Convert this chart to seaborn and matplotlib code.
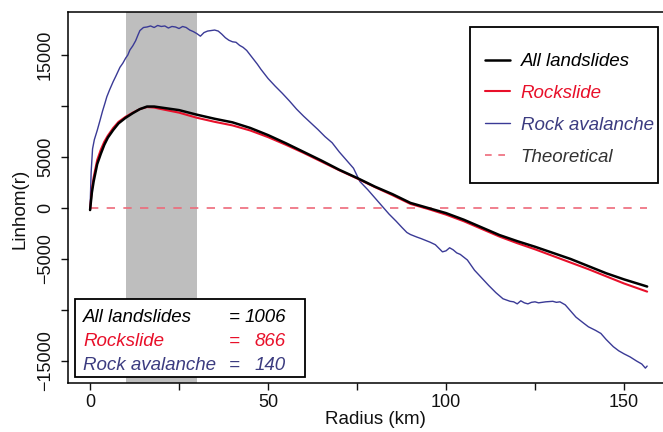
import matplotlib
matplotlib.use("Agg")
import matplotlib.pyplot as plt
import seaborn as sns
import pandas as pd
from matplotlib.patches import Rectangle
from matplotlib.lines import Line2D

# ---------------- data ----------------
radius_all = [0, 0.5, 1, 2, 3, 4, 5, 6.5, 8, 10, 12, 14, 16, 18, 20, 25, 30, 35, 40,
              45, 50, 55, 60, 65, 70, 75, 80, 85, 90, 95, 100, 105, 110, 115, 120,
              125, 130, 135, 140, 145, 150, 156.5]
linhom_all = [-200, 1500, 2600, 4300, 5300, 6200, 6900, 7650, 8300, 8850, 9300, 9700,
              9950, 9950, 9850, 9600, 9150, 8750, 8400, 7850, 7150, 6350, 5500, 4650,
              3750, 2950, 2100, 1350, 500, 0, -500, -1150, -1900, -2650, -3250, -3800,
              -4400, -5000, -5700, -6400, -7000, -7700]
linhom_rockslide = [-200, 1800, 3000, 4700, 5700, 6500, 7100, 7850, 8450, 8950, 9350,
                    9700, 9900, 9850, 9700, 9350, 8850, 8450, 8100, 7600, 6950, 6200,
                    5400, 4550, 3700, 2900, 2050, 1250, 400, -100, -650, -1300, -2050,
                    -2800, -3450, -4050, -4700, -5350, -6000, -6700, -7400, -8200]
radius_aval = [0, 0.3, 0.7, 1.2, 2, 2.8, 3.5, 4.2, 4.7, 5.5, 6.5, 7.2, 8, 8.4, 9.2, 10,
               10.6, 11.2, 12, 12.8, 13.5, 14, 15, 16, 17, 18, 19, 20, 21, 22, 23, 24,
               25, 26, 27, 28, 29, 30, 31, 32, 33, 34, 35, 36, 37, 38, 39, 40, 41, 42,
               43, 44, 45, 46, 47, 48, 49, 50, 52, 54, 56, 58, 60, 62, 64, 66, 68, 70,
               72, 74, 75.8, 78, 80, 82, 84, 86, 87.6, 89, 90, 91.8, 93, 95.5, 97, 99,
               100, 101, 102, 103, 104, 106, 108, 110, 112, 114, 116, 118, 119, 120,
               121, 122, 123, 124, 125, 126, 128, 130, 131, 132, 133.5, 135, 136.5,
               138.5, 140, 142, 143.5, 145, 147, 148.5, 150, 151.7, 153.5, 155, 156,
               156.5]
linhom_aval = [0, 3500, 5800, 6700, 7600, 8600, 9500, 10300, 10900, 11600, 12400,
               12900, 13500, 13800, 14200, 14700, 15000, 15500, 15900, 16400, 17000,
               17400, 17700, 17750, 17850, 17700, 17900, 17800, 17850, 17650, 17800,
               17750, 17600, 17800, 17700, 17450, 17300, 17100, 16850, 17200, 17350,
               17400, 17450, 17350, 17050, 16700, 16450, 16300, 16250, 15950, 15750,
               15450, 15000, 14550, 14100, 13600, 13150, 12700, 11950, 11250, 10500,
               9700, 9000, 8350, 7700, 7000, 6400, 5500, 4700, 3900, 2600, 1800, 1000,
               200, -600, -1300, -1900, -2400, -2600, -2850, -3000, -3350, -3600, -4300,
               -4200, -3900, -4100, -4400, -4550, -5100, -6100, -6850, -7600, -8300,
               -8900, -9150, -9200, -9400, -9100, -9300, -9400, -9250, -9200, -9300,
               -9200, -9150, -9250, -9200, -9500, -10100, -10700, -11250, -11650,
               -12000, -12300, -12900, -13600, -14000, -14300, -14600, -15000, -15300,
               -15700, -15500]
theory_radius = [0, 156.5]
theory_linhom = [0, 0]
band_km = [10, 30]

legend_labels = ["All landslides", "Rockslide", "Rock avalanche", "Theoretical"]
count_names = ["All landslides", "Rockslide", "Rock avalanche"]
count_values = ["1006", "866", "140"]
x_ticks = [0, 25, 50, 75, 100, 125, 150]
x_ticklabels = ["0", "", "50", "", "100", "", "150"]
y_ticks = [-15000, -10000, -5000, 0, 5000, 10000, 15000]
y_ticklabels = ["\u221215000", "", "\u22125000", "0", "5000", "", "15000"]

# ---------------- style ----------------
sns.set_style("white")
plt.rcParams["font.family"] = ["Liberation Sans", "DejaVu Sans"]
plt.rcParams["text.color"] = "#111111"
plt.rcParams["axes.labelcolor"] = "#111111"
plt.rcParams["xtick.color"] = "#111111"
plt.rcParams["ytick.color"] = "#111111"

BLACK = "#000000"
RED = "#e8102a"
BLUE = "#3a3a96"
BLUE_TXT = "#3c3c80"
PINK = "#ee6a7a"

fig = plt.figure(figsize=(6.63, 4.32), dpi=100)
ax = fig.add_axes([68 / 663, 49 / 432, 603 / 663, 371 / 432])

ax.axvspan(band_km[0], band_km[1], color="#bebebe", zorder=0, lw=0)

df_all = pd.DataFrame({"r": radius_all, "v": linhom_all})
df_rs = pd.DataFrame({"r": radius_all, "v": linhom_rockslide})
df_av = pd.DataFrame({"r": radius_aval, "v": linhom_aval})
df_th = pd.DataFrame({"r": theory_radius, "v": theory_linhom})

sns.lineplot(data=df_th, x="r", y="v", ax=ax, color=PINK, lw=1.2,
             linestyle=(0, (5, 5)), estimator=None, sort=False, zorder=2)
sns.lineplot(data=df_av, x="r", y="v", ax=ax, color=BLUE, lw=1.0,
             estimator=None, sort=False, zorder=3)
sns.lineplot(data=df_rs, x="r", y="v", ax=ax, color=RED, lw=1.5,
             estimator=None, sort=False, zorder=3)
sns.lineplot(data=df_all, x="r", y="v", ax=ax, color=BLACK, lw=1.8,
             estimator=None, sort=False, zorder=4)

ax.set_xlim(-6.2, 163.2)
ax.set_ylim(-17160, 19220)

ax.set_xticks(x_ticks)
ax.set_xticklabels(x_ticklabels)
ax.set_yticks(y_ticks)
ax.set_yticklabels(y_ticklabels, rotation=90, va="center")
ax.tick_params(axis="both", which="both", direction="out", length=5, width=1,
               labelsize=13, colors="#111111", bottom=True, left=True,
               top=False, right=False)
ax.tick_params(axis="x", pad=3)
ax.tick_params(axis="y", pad=5)

for s in ax.spines.values():
    s.set_linewidth(1.1)
    s.set_color("black")

ax.set_xlabel("Radius (km)", fontsize=13.5, color="#111111")
ax.set_ylabel("Linhom(r)", fontsize=13.5, color="#111111")
ax.xaxis.set_label_coords(0.51, -0.076)
ax.yaxis.set_label_coords(-0.066, 0.47)

# ---------------- legend (top right) ----------------
frame = Rectangle((0.667, 0.539), 0.311, 0.4206, transform=ax.transAxes,
                  facecolor="white", edgecolor="black", lw=1.3, zorder=5)
ax.add_patch(frame)
handles = [Line2D([], [], color=BLACK, lw=1.8),
           Line2D([], [], color=RED, lw=1.5),
           Line2D([], [], color=BLUE, lw=1.0),
           Line2D([], [], color=PINK, lw=1.2, linestyle=(0, (4, 4)))]
leg = ax.legend(handles, legend_labels, loc="upper left",
                bbox_to_anchor=(0.6915, 0.889), frameon=False,
                prop={"size": 13.5, "style": "italic"},
                handlelength=1.35, handletextpad=0.55, labelspacing=0.78,
                borderpad=0, borderaxespad=0)
leg.set_zorder(6)
for t, c in zip(leg.get_texts(), [BLACK, RED, BLUE_TXT, "#333333"]):
    t.set_color(c)

# ---------------- counts box (bottom left) ----------------
box = Rectangle((0.0116, 0.016), 0.3814, 0.2104, transform=ax.transAxes,
                facecolor="white", edgecolor="black", lw=1.3, zorder=5)
ax.add_patch(box)
ys = [0.176, 0.113, 0.048]
for name, val, y, c in zip(count_names, count_values, ys, [BLACK, RED, BLUE_TXT]):
    ax.text(0.0249, y, name, transform=ax.transAxes, fontsize=13.5,
            style="italic", color=c, va="center", ha="left", zorder=6)
    ax.text(0.267, y, "=", transform=ax.transAxes, fontsize=13.5,
            style="italic", color=c, va="center", ha="left", zorder=6)
    ax.text(0.3615, y, val, transform=ax.transAxes, fontsize=13.5,
            style="italic", color=c, va="center", ha="right", zorder=6)

fig.savefig("out.png", dpi=100)
